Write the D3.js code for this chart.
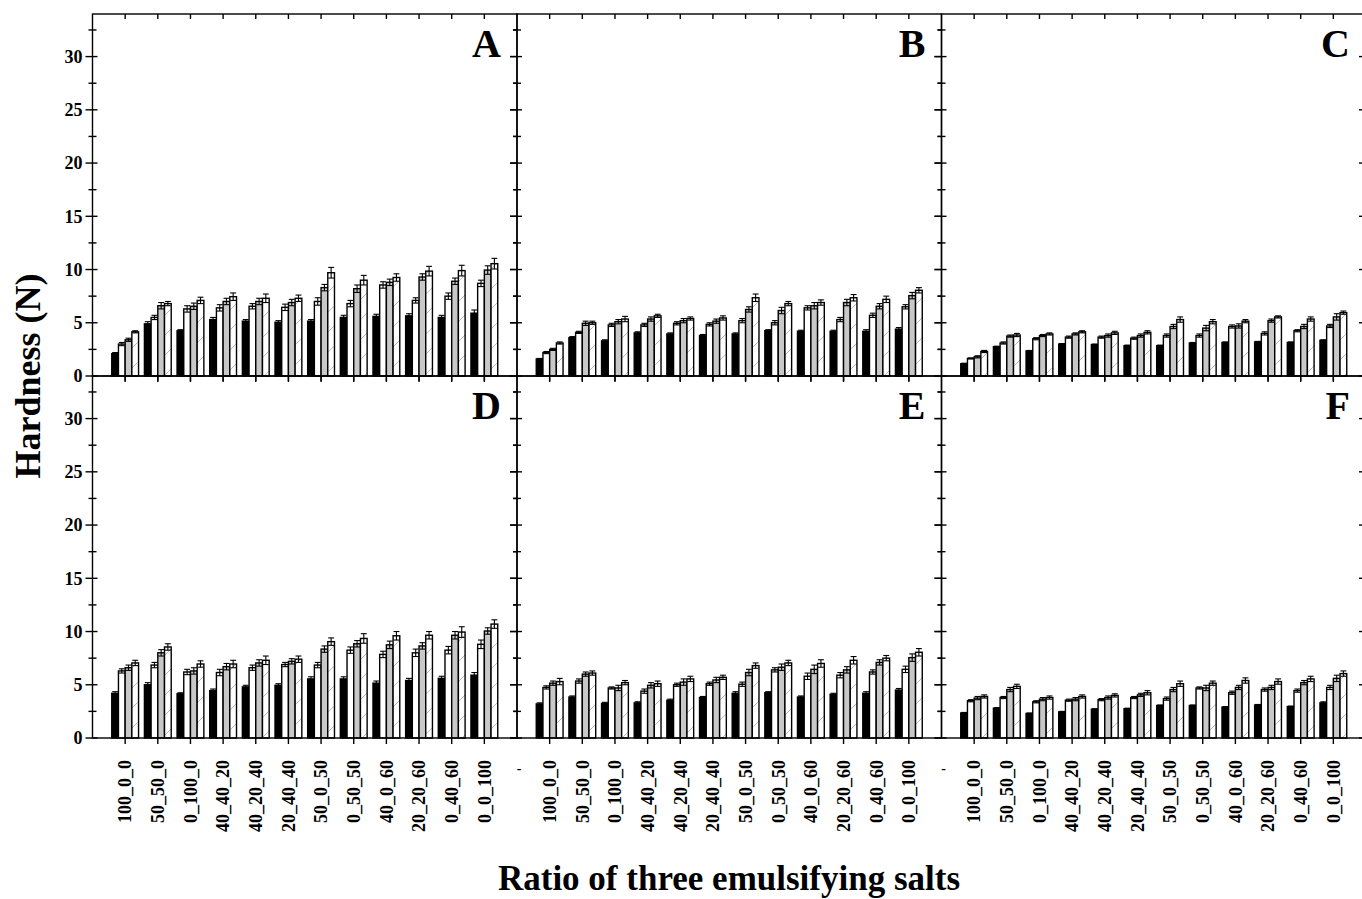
<!DOCTYPE html>
<html>
<head>
<meta charset="utf-8">
<script src="https://cdn.jsdelivr.net/npm/d3@7/dist/d3.min.js"></script>
<style>
  html, body { margin: 0; padding: 0; background: #fff; }
  svg { display: block; }
  text { font-family: "Liberation Serif", "Times New Roman", serif; font-weight: bold; fill: #000; }
</style>
</head>
<body>
<svg id="chart" width="1362" height="899"></svg>
<script>
// Emulsifying-salt ratios on the x axis
const categories = ["100_0_0", "50_50_0", "0_100_0", "40_40_20", "40_20_40", "20_40_40",
                    "50_0_50", "0_50_50", "40_0_60", "20_20_60", "0_40_60", "0_0_100"];
const seriesKeys = ["s1", "s2", "s3", "s4"];
const panelLetters = ["A", "B", "C", "D", "E", "F"];
const yMajorTicks = [0, 5, 10, 15, 20, 25, 30];
const yMinorTicks = [2.5, 7.5, 12.5, 17.5, 22.5, 27.5, 32.5];

// Hardness (N) per panel: rows are the four series, columns follow categories
const hardnessA = [
  [2.1, 4.9, 4.25, 5.3, 5.15, 5.05, 5.15, 5.5, 5.6, 5.65, 5.5, 5.9],
  [3.0, 5.5, 6.3, 6.4, 6.55, 6.45, 7.0, 6.8, 8.55, 7.1, 7.5, 8.7],
  [3.4, 6.6, 6.55, 7.0, 7.0, 6.9, 8.3, 8.2, 8.8, 9.3, 8.9, 9.95],
  [4.15, 6.8, 7.1, 7.45, 7.3, 7.3, 9.7, 9.0, 9.25, 9.85, 9.9, 10.55]
];
const hardnessB = [
  [1.6, 3.6, 3.3, 4.05, 3.95, 3.8, 3.95, 4.25, 4.2, 4.2, 4.2, 4.4],
  [2.2, 4.1, 4.8, 4.8, 4.95, 4.85, 5.2, 5.0, 6.4, 5.3, 5.7, 6.5],
  [2.5, 4.95, 5.1, 5.35, 5.2, 5.15, 6.25, 6.15, 6.6, 6.9, 6.55, 7.55],
  [3.1, 5.0, 5.35, 5.65, 5.4, 5.45, 7.35, 6.8, 6.9, 7.35, 7.2, 8.05]
];
const hardnessC = [
  [1.15, 2.75, 2.35, 3.0, 2.95, 2.85, 2.85, 3.1, 3.15, 3.2, 3.15, 3.35],
  [1.65, 3.1, 3.5, 3.65, 3.65, 3.55, 3.8, 3.8, 4.65, 4.0, 4.25, 4.7],
  [1.8, 3.75, 3.8, 3.95, 3.8, 3.8, 4.65, 4.5, 4.7, 5.2, 4.65, 5.55],
  [2.3, 3.85, 3.95, 4.15, 4.05, 4.1, 5.3, 5.1, 5.15, 5.55, 5.35, 5.95]
];
const hardnessD = [
  [4.2, 5.0, 4.15, 4.45, 4.8, 4.95, 5.55, 5.55, 5.15, 5.4, 5.6, 5.9],
  [6.3, 6.85, 6.2, 6.15, 6.6, 6.9, 6.85, 8.25, 7.85, 8.0, 8.25, 8.8],
  [6.6, 8.0, 6.3, 6.7, 7.05, 7.2, 8.35, 8.85, 8.75, 8.65, 9.65, 10.05],
  [7.05, 8.55, 6.95, 6.95, 7.3, 7.4, 9.05, 9.35, 9.6, 9.65, 9.95, 10.7]
];
const hardnessE = [
  [3.2, 3.85, 3.25, 3.3, 3.55, 3.8, 4.2, 4.25, 3.85, 4.1, 4.2, 4.5],
  [4.75, 5.35, 4.7, 4.4, 5.0, 5.1, 5.05, 6.4, 5.8, 5.9, 6.2, 6.45],
  [5.15, 6.0, 4.7, 4.95, 5.25, 5.45, 6.15, 6.65, 6.45, 6.4, 7.1, 7.55],
  [5.3, 6.1, 5.2, 5.1, 5.55, 5.7, 6.8, 7.05, 7.0, 7.3, 7.5, 8.05]
];
const hardnessF = [
  [2.35, 2.8, 2.3, 2.45, 2.7, 2.75, 3.05, 3.05, 2.9, 3.1, 2.95, 3.3],
  [3.5, 3.8, 3.4, 3.55, 3.6, 3.8, 3.7, 4.7, 4.25, 4.55, 4.45, 4.75],
  [3.75, 4.55, 3.65, 3.65, 3.8, 4.05, 4.55, 4.7, 4.75, 4.75, 5.2, 5.6],
  [3.9, 4.85, 3.8, 3.9, 4.0, 4.25, 5.1, 5.15, 5.4, 5.3, 5.55, 6.05]
];

// Standard deviations, same layout as the hardness arrays
const errA = [
  [0.1, 0.2, 0.1, 0.2, 0.15, 0.15, 0.15, 0.2, 0.2, 0.2, 0.2, 0.3],
  [0.15, 0.2, 0.3, 0.3, 0.25, 0.3, 0.35, 0.3, 0.3, 0.25, 0.3, 0.3],
  [0.15, 0.3, 0.3, 0.3, 0.3, 0.3, 0.3, 0.35, 0.3, 0.3, 0.3, 0.4],
  [0.1, 0.2, 0.3, 0.35, 0.4, 0.3, 0.5, 0.45, 0.35, 0.45, 0.5, 0.5]
];
const errB = [
  [0.05, 0.1, 0.1, 0.1, 0.1, 0.1, 0.1, 0.1, 0.1, 0.1, 0.15, 0.15],
  [0.1, 0.1, 0.15, 0.15, 0.15, 0.15, 0.2, 0.2, 0.2, 0.2, 0.2, 0.2],
  [0.1, 0.2, 0.2, 0.2, 0.2, 0.2, 0.25, 0.3, 0.3, 0.3, 0.25, 0.3],
  [0.1, 0.15, 0.25, 0.15, 0.15, 0.2, 0.35, 0.2, 0.25, 0.3, 0.3, 0.25]
];
const errC = [
  [0.05, 0.05, 0.05, 0.05, 0.05, 0.05, 0.05, 0.05, 0.05, 0.05, 0.05, 0.05],
  [0.05, 0.1, 0.1, 0.1, 0.1, 0.1, 0.15, 0.15, 0.15, 0.15, 0.1, 0.15],
  [0.1, 0.1, 0.1, 0.1, 0.15, 0.15, 0.2, 0.25, 0.2, 0.15, 0.2, 0.3],
  [0.1, 0.15, 0.1, 0.1, 0.15, 0.15, 0.25, 0.2, 0.15, 0.1, 0.2, 0.15]
];
const errD = [
  [0.15, 0.2, 0.1, 0.15, 0.15, 0.15, 0.2, 0.2, 0.2, 0.2, 0.2, 0.25],
  [0.2, 0.25, 0.25, 0.3, 0.25, 0.2, 0.25, 0.3, 0.3, 0.35, 0.35, 0.4],
  [0.25, 0.3, 0.3, 0.3, 0.3, 0.25, 0.3, 0.3, 0.35, 0.3, 0.35, 0.3],
  [0.25, 0.3, 0.3, 0.35, 0.4, 0.3, 0.35, 0.45, 0.4, 0.35, 0.5, 0.4]
];
const errE = [
  [0.1, 0.1, 0.1, 0.1, 0.1, 0.1, 0.15, 0.1, 0.1, 0.1, 0.15, 0.15],
  [0.15, 0.2, 0.1, 0.2, 0.15, 0.15, 0.2, 0.2, 0.3, 0.25, 0.2, 0.3],
  [0.2, 0.2, 0.25, 0.25, 0.3, 0.25, 0.3, 0.3, 0.4, 0.3, 0.25, 0.35],
  [0.3, 0.2, 0.2, 0.25, 0.25, 0.2, 0.25, 0.25, 0.35, 0.35, 0.25, 0.35]
];
const errF = [
  [0.05, 0.05, 0.05, 0.05, 0.05, 0.05, 0.05, 0.05, 0.05, 0.05, 0.05, 0.1],
  [0.1, 0.1, 0.1, 0.1, 0.1, 0.1, 0.15, 0.1, 0.15, 0.15, 0.15, 0.2],
  [0.15, 0.2, 0.15, 0.15, 0.15, 0.15, 0.2, 0.25, 0.2, 0.2, 0.2, 0.3],
  [0.15, 0.2, 0.15, 0.15, 0.15, 0.2, 0.25, 0.2, 0.25, 0.25, 0.25, 0.25]
];

const panelValues = [hardnessA, hardnessB, hardnessC, hardnessD, hardnessE, hardnessF];
const panelErrors = [errA, errB, errC, errD, errE, errF];

// ---- layout ----
const svg = d3.select("#chart");
const colX = [92.5, 517, 941.5];
const rowY = [14, 376];
const panelW = 424.5, panelH = 362;
const stroke = 1.4;

const fills = { s1: "#000", s2: "#fff", s3: "#c8c8c8", s4: "url(#hatch)" };

const defs = svg.append("defs");
const pat = defs.append("pattern")
  .attr("id", "hatch").attr("patternUnits", "userSpaceOnUse")
  .attr("width", 20).attr("height", 20);
pat.append("rect").attr("width", 20).attr("height", 20).attr("fill", "#fff");
pat.append("path").attr("d", "M0,20 L20,0").attr("stroke", "#b4b4b4").attr("stroke-width", 0.9);

panelValues.forEach((vals, pi) => {
  const col = pi % 3, row = Math.floor(pi / 3);
  const x0 = colX[col], y0 = rowY[row];
  const g = svg.append("g");

  const x = d3.scalePoint().domain(categories).range([x0, x0 + panelW]).padding(1);
  const y = d3.scaleLinear().domain([0, 34]).range([y0 + panelH, y0]);
  const inner = d3.scaleBand().domain(seriesKeys).range([-13.4, 13.4]);
  const bw = inner.bandwidth();

  // bars
  const rows = [];
  seriesKeys.forEach((k, si) => {
    categories.forEach((c, ci) => rows.push({ k, c, v: vals[si][ci], e: panelErrors[pi][si][ci] }));
  });
  g.selectAll("rect.bar").data(rows).join("rect")
    .attr("class", "bar")
    .attr("x", d => x(d.c) + inner(d.k))
    .attr("width", bw)
    .attr("y", d => y(d.v))
    .attr("height", d => y(0) - y(d.v))
    .attr("fill", d => fills[d.k])
    .attr("stroke", "#000")
    .attr("stroke-width", stroke);

  // error bars
  const eb = g.selectAll("g.err").data(rows).join("g").attr("class", "err")
    .attr("stroke", "#000").attr("stroke-width", 1.1);
  eb.append("line")
    .attr("x1", d => x(d.c) + inner(d.k) + bw / 2).attr("x2", d => x(d.c) + inner(d.k) + bw / 2)
    .attr("y1", d => y(d.v - d.e)).attr("y2", d => y(d.v + d.e));
  [1, -1].forEach(sgn => {
    eb.append("line")
      .attr("x1", d => x(d.c) + inner(d.k) + 0.4).attr("x2", d => x(d.c) + inner(d.k) + bw - 0.4)
      .attr("y1", d => y(d.v + sgn * d.e)).attr("y2", d => y(d.v + sgn * d.e));
  });

  // frame
  g.append("rect").attr("x", x0).attr("y", y0).attr("width", panelW).attr("height", panelH)
    .attr("fill", "none").attr("stroke", "#000").attr("stroke-width", stroke);

  // y ticks: left side crosses the axis, right side points inward
  const tk = g.append("g").attr("stroke", "#000").attr("stroke-width", stroke);
  yMajorTicks.forEach(v => {
    tk.append("line").attr("x1", x0 - 7).attr("x2", x0 + 5).attr("y1", y(v)).attr("y2", y(v));
    tk.append("line").attr("x1", x0 + panelW - 7).attr("x2", x0 + panelW).attr("y1", y(v)).attr("y2", y(v));
  });
  yMinorTicks.forEach(v => {
    tk.append("line").attr("x1", x0 - 4).attr("x2", x0 + 4).attr("y1", y(v)).attr("y2", y(v));
    tk.append("line").attr("x1", x0 + panelW - 4).attr("x2", x0 + panelW).attr("y1", y(v)).attr("y2", y(v));
  });
  // x ticks at each category, bottom outward and top inward
  categories.forEach(c => {
    tk.append("line").attr("x1", x(c)).attr("x2", x(c)).attr("y1", y0 + panelH).attr("y2", y0 + panelH + 6);
    tk.append("line").attr("x1", x(c)).attr("x2", x(c)).attr("y1", y0).attr("y2", y0 + 5);
  });

  // y tick labels on the first column
  if (col === 0) {
    g.selectAll("text.ytl").data(yMajorTicks).join("text")
      .attr("class", "ytl")
      .attr("x", x0 - 10).attr("y", d => y(d)).attr("dy", "0.35em")
      .attr("text-anchor", "end").attr("font-size", 18)
      .text(d => d);
  }

  // rotated category labels on the bottom row
  if (row === 1) {
    g.selectAll("text.xtl").data(categories).join("text")
      .attr("class", "xtl")
      .attr("transform", d => `translate(${x(d)},${y0 + panelH + 22}) rotate(-90)`)
      .attr("dy", "0.35em")
      .attr("text-anchor", "end").attr("font-size", 18)
      .text(d => d);
  }

  // panel letter
  g.append("text")
    .attr("x", x0 + panelW - 16).attr("y", y0 + 43)
    .attr("text-anchor", "end").attr("font-size", 40)
    .text(panelLetters[pi]);
});

// stray separators between label groups
[colX[1], colX[2]].forEach(cx => {
  svg.append("text").attr("x", cx + 2).attr("y", 773)
    .attr("text-anchor", "middle").attr("font-size", 14).text("-");
});

// axis titles
svg.append("text")
  .attr("transform", "translate(40,376) rotate(-90)")
  .attr("text-anchor", "middle").attr("font-size", 36)
  .text("Hardness (N)");
svg.append("text")
  .attr("x", 729).attr("y", 890)
  .attr("text-anchor", "middle").attr("font-size", 35)
  .text("Ratio of three emulsifying salts");
</script>
</body>
</html>
